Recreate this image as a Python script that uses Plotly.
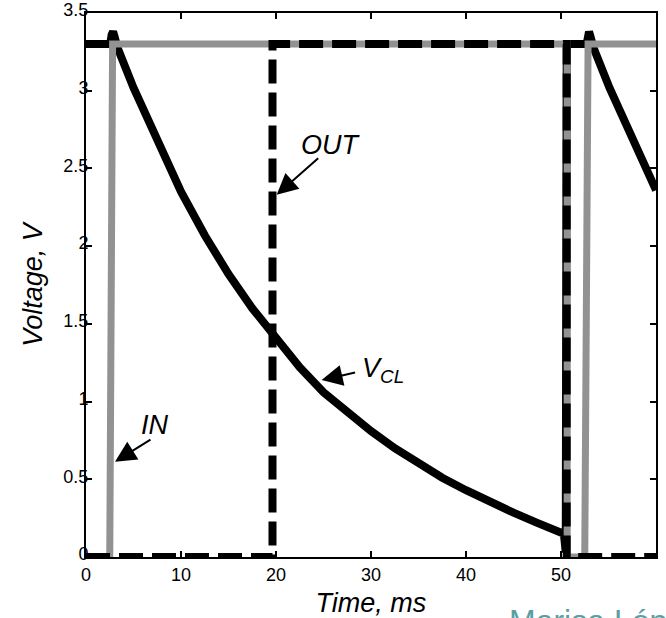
import plotly.graph_objects as go

# ---- data ----
in_t = [0, 2.5, 2.8, 50.65, 50.65, 52.5, 52.85, 60]
in_v = [0, 0, 3.3, 3.3, 0, 0, 3.3, 3.3]

out_t = [0, 19.63, 19.63, 50.6, 50.6, 60]
out_v = [0, 0, 3.3, 3.3, 0, 0]

vcl_t = [0, 2.55, 2.7, 2.85, 3.0, 3.3, 5.0, 7.5, 10.0, 12.5, 15.0, 17.5, 20.0,
         22.5, 25.0, 27.5, 30.0, 32.5, 35.0, 37.5, 40.0, 42.5, 45.0, 47.5, 50.3, 50.5, 50.6,
         52.7, 52.8, 52.95, 53.1, 53.4, 55.1, 57.6, 60.0]
vcl_v = [3.3, 3.3, 3.36, 3.38, 3.35, 3.28, 3.02, 2.67, 2.35, 2.07, 1.82, 1.60, 1.40,
         1.22, 1.06, 0.93, 0.81, 0.70, 0.60, 0.51, 0.43, 0.355, 0.285, 0.22, 0.15, 0.03, 3.3,
         3.3, 3.36, 3.38, 3.35, 3.28, 3.02, 2.67, 2.36]

x_ticks = [0, 10, 20, 30, 40, 50, 60]
x_ticktext = ["0", "10", "20", "30", "40", "50", "60"]
y_ticks = [0, 0.5, 1, 1.5, 2, 2.5, 3, 3.5]
y_ticktext = ["0", "0.5", "1", "1.5", "2", "2.5", "3", "3.5"]

FONT = "Liberation Sans, Arial, Helvetica, sans-serif"
GRAY = "#929292"

fig = go.Figure()
fig.add_trace(go.Scatter(x=vcl_t, y=vcl_v, mode="lines",
                         line=dict(color="black", width=8), name="V_CL"))
fig.add_trace(go.Scatter(x=in_t, y=in_v, mode="lines",
                         line=dict(color=GRAY, width=7), name="IN"))
fig.add_trace(go.Scatter(x=out_t, y=out_v, mode="lines",
                         line=dict(color="black", width=8, dash="24px,9px"), name="OUT"))

axis_common = dict(showline=True, linecolor="black", linewidth=2, mirror="ticks",
                   ticks="inside", ticklen=6, tickwidth=1.5, tickcolor="black",
                   showgrid=False, zeroline=False,
                   tickfont=dict(family=FONT, size=18, color="black"))

fig.update_xaxes(range=[0, 60], tickvals=x_ticks, ticktext=x_ticktext,
                 title=dict(text="Time, ms", standoff=10,
                            font=dict(family=FONT, size=27, color="black", style="italic")),
                 **axis_common)
fig.update_yaxes(range=[0, 3.5], tickvals=y_ticks, ticktext=y_ticktext,
                 ticklabelstandoff=-8, ticklabelshift=-3,
                 title=dict(text="Voltage, V", standoff=13,
                            font=dict(family=FONT, size=27, color="black", style="italic")),
                 **axis_common)

lab_font = dict(family=FONT, size=27, color="black", style="italic")
arrow = dict(showarrow=True, arrowhead=2, arrowsize=2.1, arrowwidth=2,
             arrowcolor="black", axref="pixel", ayref="pixel", standoff=0)

annotations = [
    dict(x=3.05, y=0.613, ax=37, ay=-23, text="", **arrow),
    dict(x=20.07, y=2.33, ax=43, ay=-38, text="", **arrow),
    dict(x=24.8, y=1.138, ax=35, ay=-8, text="", **arrow),
    dict(x=7.26, y=0.85, text="IN", showarrow=False, font=lab_font,
         xanchor="center", yanchor="middle"),
    dict(x=25.8, y=2.65, text="OUT", showarrow=False, font=lab_font,
         xanchor="center", yanchor="middle"),
    dict(x=28.84, y=1.2, text="V<sub>CL</sub>", showarrow=False, font=lab_font,
         xanchor="left", yanchor="middle"),
    dict(x=0.7386, y=-0.081, xref="paper", yref="paper", text="Marisa López",
         showarrow=False, xanchor="left", yanchor="top",
         font=dict(family=FONT, size=32, color="#5b9ea4")),
]
fig.update_layout(annotations=annotations)

fig.update_layout(width=666, height=618,
                  margin=dict(l=86, r=10, t=13, b=61, autoexpand=False),
                  plot_bgcolor="white", paper_bgcolor="white",
                  showlegend=False)

fig.write_html("out.html")
